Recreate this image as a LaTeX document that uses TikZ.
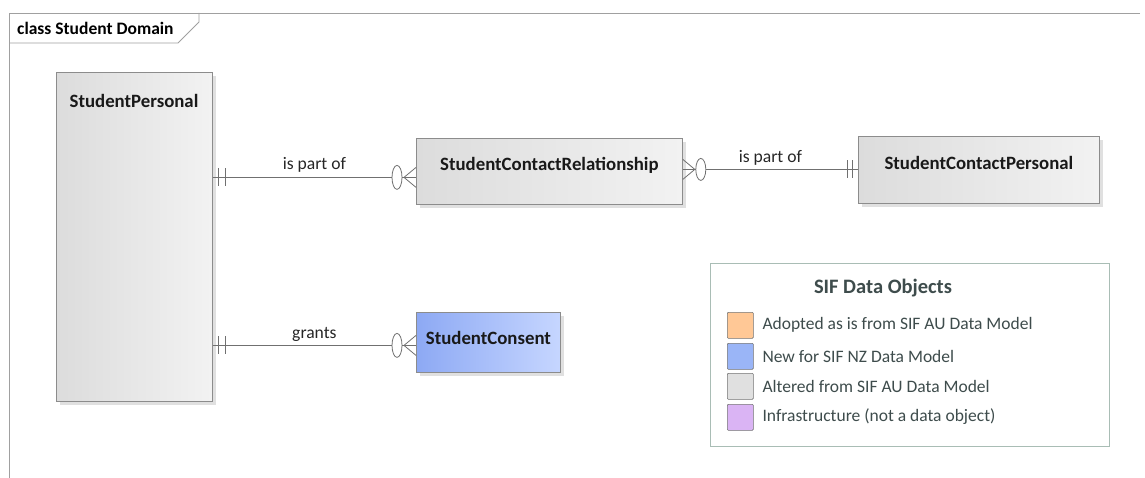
\documentclass[tikz,border=0pt]{standalone}
\usepackage{fontspec}
\setmainfont{Carlito}
\usetikzlibrary{shadows,calc}
\definecolor{frameg}{HTML}{A0A0A0}
\definecolor{boxedge}{HTML}{8C8C8C}
\definecolor{grayL}{HTML}{DCDCDC}
\definecolor{grayR}{HTML}{F2F2F2}
\definecolor{blueL}{HTML}{8DA9F4}
\definecolor{blueR}{HTML}{C6D6FF}
\definecolor{legedge}{HTML}{A9BDB5}
\definecolor{legtext}{HTML}{3E4C4C}
\definecolor{cOrange}{HTML}{FFC896}
\definecolor{cBlue}{HTML}{9AB5F7}
\definecolor{cGray}{HTML}{E0E0E0}
\definecolor{cPurple}{HTML}{DAB4F4}
\definecolor{conn}{HTML}{707070}
\tikzset{
  entbox/.style={draw=boxedge, line width=0.8pt, anchor=north west, inner sep=0pt,
     drop shadow={shadow xshift=4pt, shadow yshift=-4pt, fill=black!12, opacity=1},
     left color=grayL, right color=grayR},
  bluebox/.style={entbox, left color=blueL, right color=blueR},
  enttext/.style={font=\fontsize{18.8}{22}\selectfont\bfseries, text=black!90},
  conline/.style={draw=conn, line width=0.8pt},
  lbl/.style={font=\fontsize{17.6}{20}\selectfont, text=black!85},
  swatch/.style={draw=black!55, line width=0.6pt, rounded corners=1pt, minimum width=26pt, minimum height=26pt, inner sep=0pt, anchor=north west},
  legitem/.style={font=\fontsize{17.5}{20}\selectfont, text=legtext, anchor=west},
}
\begin{document}
\begin{tikzpicture}[x=1pt,y=-1pt]
\useasboundingbox (0,0) rectangle (1145,478);
% frame
\draw[frameg, line width=0.8pt] (1140,13) -- (9,13) -- (9,478);
\draw[frameg, line width=0.8pt] (9,43) -- (178,43) -- (199,22) -- (199,13);
\node[font=\fontsize{17.5}{20}\selectfont\bfseries, anchor=west, inner sep=0pt] (title) at (17,28) {class Student Domain};

% entities
\node[entbox, minimum width=156pt, minimum height=329pt] (sp) at (56,72) {};
\node[enttext] (sptxt) at (134,101) {StudentPersonal};
\node[entbox, minimum width=266pt, minimum height=66pt] (csr) at (416,138) {};
\node[enttext] (csrtxt) at ([yshift=6pt]csr.center) {StudentContactRelationship};
\node[entbox, minimum width=241pt, minimum height=67pt] (scp) at (858,136) {};
\node[enttext] (scptxt) at ([yshift=6.5pt]scp.center) {StudentContactPersonal};
\node[bluebox, minimum width=144pt, minimum height=60pt] (sc) at (416,312) {};
\node[enttext] (sctxt) at ([yshift=4pt]sc.center) {StudentConsent};

% connector 1: sp -- csr
\coordinate (b1) at ($(csr.west)+(0,6)$);
\coordinate (a1) at (sp.east |- b1);
\draw[conline] (a1) -- (b1);
\draw[conline] ($(a1)+(6,-9)$) -- ($(a1)+(6,9)$);
\draw[conline] ($(a1)+(13,-9)$) -- ($(a1)+(13,9)$);
\draw[conline] ($(b1)+(0,-10)$) -- ($(b1)+(-12,0)$) -- ($(b1)+(0,10)$);
\draw[conline, fill=white] ($(b1)+(-19,0)$) ellipse (5 and 12);
\node[lbl] (l1) at ($(a1)!0.5!(b1)+(0,-13)$) {is part of};

% connector 2: csr -- scp
\coordinate (a2) at ($(csr.east)+(0,-2)$);
\coordinate (b2) at (scp.west |- a2);
\draw[conline] (a2) -- (b2);
\draw[conline] ($(a2)+(0,-10)$) -- ($(a2)+(12,0)$) -- ($(a2)+(0,10)$);
\draw[conline, fill=white] ($(a2)+(18,0)$) ellipse (5 and 11);
\draw[conline] ($(b2)+(-6,-9)$) -- ($(b2)+(-6,9)$);
\draw[conline] ($(b2)+(-11,-9)$) -- ($(b2)+(-11,9)$);
\node[lbl] (l2) at ($(a2)!0.5!(b2)+(0,-12)$) {is part of};

% connector 3: sp -- sc
\coordinate (b3) at ($(sc.west)+(0,3)$);
\coordinate (a3) at (sp.east |- b3);
\draw[conline] (a3) -- (b3);
\draw[conline] ($(a3)+(6,-9)$) -- ($(a3)+(6,9)$);
\draw[conline] ($(a3)+(13,-9)$) -- ($(a3)+(13,9)$);
\draw[conline] ($(b3)+(0,-10)$) -- ($(b3)+(-12,0)$) -- ($(b3)+(0,10)$);
\draw[conline, fill=white] ($(b3)+(-19,0)$) ellipse (5 and 12);
\node[lbl] (l3) at ($(a3)!0.5!(b3)+(0,-11)$) {grants};

% legend
\node[draw=legedge, line width=0.8pt, fill=white, minimum width=399pt, minimum height=183pt, anchor=north west, inner sep=0pt] (leg) at (710,263) {};
\node[font=\fontsize{20.5}{23}\selectfont\bfseries, text=legtext] (legt) at (883,288) {SIF Data Objects};
\node[swatch, fill=cOrange] (s1) at (727,312) {};
\node[swatch, fill=cBlue] (s2) at (727,343) {};
\node[swatch, fill=cGray] (s3) at (727,373) {};
\node[swatch, fill=cPurple] (s4) at (727,404) {};
\node[legitem] (t1) at (759,325) {Adopted as is from SIF AU Data Model};
\node[legitem] (t2) at (759,356) {New for SIF NZ Data Model};
\node[legitem] (t3) at (759,386) {Altered from SIF AU Data Model};
\node[legitem] (t4) at (759,417) {Infrastructure (not a data object)};
\end{tikzpicture}
\end{document}
